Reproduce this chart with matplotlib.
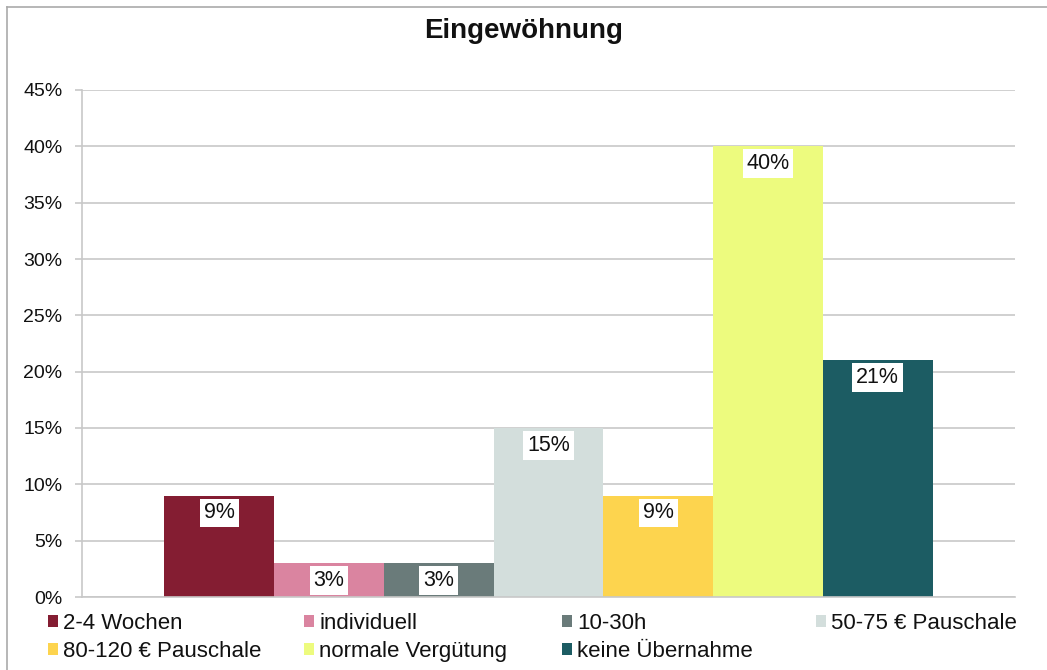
import matplotlib
matplotlib.use("Agg")
import matplotlib.pyplot as plt
from matplotlib.patches import Patch
from matplotlib.lines import Line2D
from matplotlib.ticker import FuncFormatter

plt.rcParams['font.family'] = ['Liberation Sans', 'DejaVu Sans']

title = "Eingewöhnung"
categories = ["2-4 Wochen", "individuell", "10-30h", "50-75 € Pauschale",
              "80-120 € Pauschale", "normale Vergütung", "keine Übernahme"]
values = [9, 3, 3, 15, 9, 40, 21]
colors = ["#841D32", "#DA84A0", "#6A7B7A", "#D3DEDC",
          "#FDD44E", "#EDFB7E", "#1C5C63"]
yticks = [0, 5, 10, 15, 20, 25, 30, 35, 40, 45]

W, H = 1047, 670
fig = plt.figure(figsize=(W / 100, H / 100), dpi=100)
ax = fig.add_axes([82 / W, 1 - 597 / H, (1015 - 82) / W, (597 - 90) / H])

n = len(values)
xs = [i - (n - 1) / 2 for i in range(n)]
bars = ax.bar(xs, values, width=1.0, color=colors, edgecolor='none', zorder=2)

ax.set_xlim(-n / 2 - 0.75, n / 2 + 0.75)
ax.set_ylim(0, 45)
ax.set_yticks(yticks)
ax.yaxis.set_major_formatter(FuncFormatter(lambda v, p: f"{int(v)}%"))
ax.grid(axis='y', color='#C8C8C8', linewidth=1.2, zorder=0)
ax.set_axisbelow(True)
ax.set_xticks([])
for s in ['top', 'right']:
    ax.spines[s].set_visible(False)
ax.spines['left'].set_color('#C8C8C8')
ax.spines['bottom'].set_color('#C8C8C8')
ax.spines['left'].set_linewidth(1.2)
ax.spines['bottom'].set_linewidth(1.2)
ax.tick_params(axis='y', length=5, width=1.2, color='#C8C8C8', labelsize=14,
               pad=9, labelcolor='#111111')

for x, v in zip(xs, values):
    ax.annotate(f"{v}%", xy=(x, v), xytext=(0, -12.5), textcoords='offset points',
                ha='center', va='center', fontsize=15.5, color='#111111',
                bbox=dict(boxstyle='square,pad=0.18', fc='white', ec='none'),
                zorder=3)

fig.text(0.5, 1 - 31 / H, title, ha='center', va='center', fontsize=20,
         fontweight='bold', color='#111111')

# legend: 4 equal columns, 2 rows
columns = [[0, 4], [1, 5], [2, 6], [3]]
col_x = [48, 304, 562, 816]
for cx, idxs in zip(col_x, columns):
    handles = [Patch(facecolor=colors[i], edgecolor='none') for i in idxs]
    labels = [categories[i] for i in idxs]
    fig.legend(handles, labels, loc='upper left',
               bbox_to_anchor=(cx / W, 1 - 613 / H), frameon=False,
               fontsize=16, handlelength=0.47, handleheight=0.47,
               handletextpad=0.22, borderpad=0, borderaxespad=0,
               labelspacing=0.3, labelcolor='#111111')

# frame lines (top and left) of the original chart box
fig.add_artist(Line2D([7 / W, 1], [1 - 7 / H, 1 - 7 / H], color='#AAAAAA',
                      linewidth=1.2, transform=fig.transFigure))
fig.add_artist(Line2D([7 / W, 7 / W], [0, 1 - 7 / H], color='#AAAAAA',
                      linewidth=1.2, transform=fig.transFigure))

fig.savefig("out.png", dpi=100)
